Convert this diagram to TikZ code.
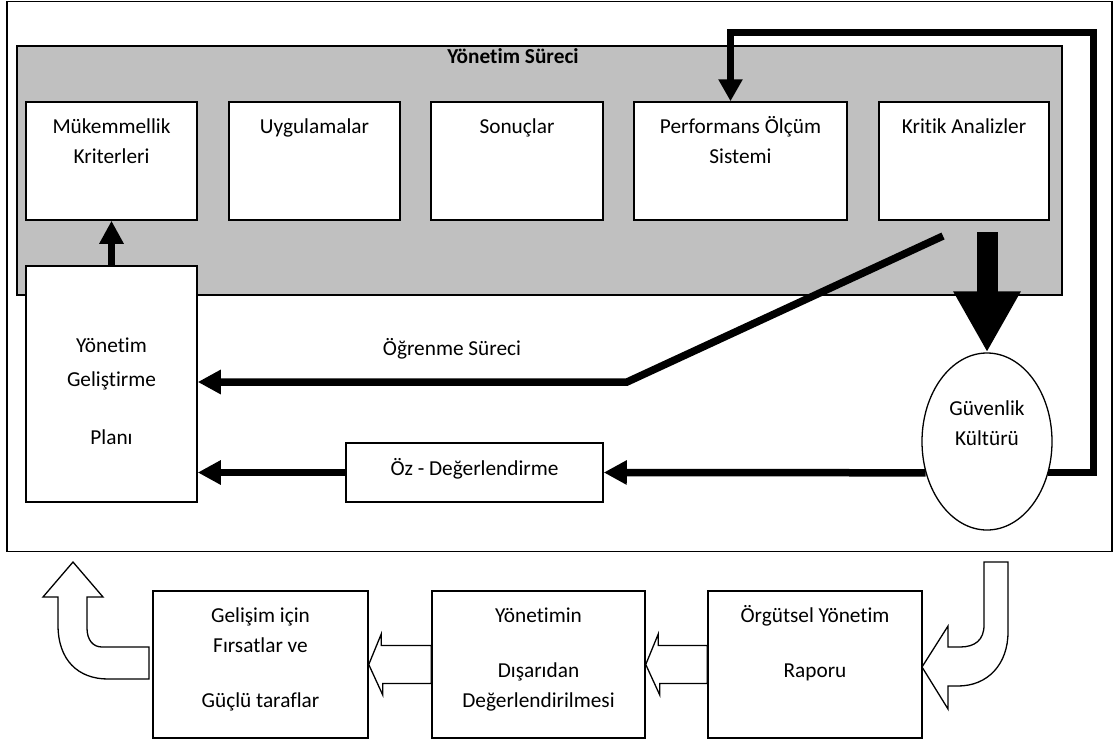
\documentclass[tikz,border=0pt]{standalone}
\usepackage{fontspec}
\setmainfont{Carlito}[Ligatures=NoCommon]
\usetikzlibrary{arrows.meta,shapes.geometric,calc}
\definecolor{procgray}{RGB}{192,192,192}
\begin{document}
\begin{tikzpicture}[x=1pt,y=-1pt,
  framebox/.style={draw, line width=1.5pt, inner sep=0pt},
  box/.style={draw, line width=1.5pt, fill=white, inner sep=0pt},
  % anchor=base of a multi-line label sits on its last line
  lbl/.style={font=\fontsize{21.3}{30}\selectfont, align=center, anchor=base, inner sep=0pt},
  flow/.style={line width=7.5pt, -{Triangle[length=23pt,width=23pt]}},
  bigflow/.style={line width=21pt, -{Triangle[length=61pt,width=63pt]}},
  hollow/.style={draw, line width=1.3pt, fill=white, line join=miter},
]
\useasboundingbox (0,0) rectangle (1115,744);

% outer frame and the management process panel
\node[framebox, minimum width=1105pt, minimum height=550pt] (frame) at (559.5,276.5) {};
\node[framebox, fill=procgray, line width=1.3pt, minimum width=1045pt, minimum height=249pt] (proc) at (539.5,170.5) {};
\node[lbl, font=\fontsize{21.3}{30}\selectfont\bfseries] (proctitle) at (513,63) {Yönetim Süreci};

% process steps
\node[box, minimum width=171pt, minimum height=118pt] (b1) at (111.5,161) {};
\node[box, minimum width=171pt, minimum height=118pt] (b2) at (314.5,161) {};
\node[box, minimum width=172pt, minimum height=118pt] (b3) at (517,161) {};
\node[box, minimum width=213pt, minimum height=118pt] (b4) at (740.5,161) {};
\node[box, minimum width=170pt, minimum height=118pt] (b5) at (964,161) {};
\node[lbl] (t1) at (111.5,163) {Mükemmellik\\Kriterleri};
\node[lbl] (t2) at (314.5,133) {Uygulamalar};
\node[lbl] (t3) at (517,133) {Sonuçlar};
\node[lbl] (t4) at (740.5,163) {Performans Ölçüm\\Sistemi};
\node[lbl] (t5) at (964,133) {Kritik Analizler};

% improvement plan, self assessment, safety culture
\node[box, minimum width=171pt, minimum height=236pt] (plan) at (111.5,384) {};
\node[lbl] (tplan) at (111.5,444) {Yönetim\\[4pt]Geliştirme\\[28pt]Planı};
\node[box, minimum width=257pt, minimum height=59pt] (oz) at (474.5,472.5) {};
\node[lbl] (toz) at (474.5,475) {Öz - Değerlendirme};
\node[draw, ellipse, line width=1.3pt, fill=white, inner sep=0pt, minimum width=130pt, minimum height=177pt] (guv) at (987,441.5) {};
\node[lbl] (tguv) at (987,445) {Güvenlik\\Kültürü};

% external reporting chain
\node[box, minimum width=215pt, minimum height=147pt] (gel) at (260.5,664.5) {};
\node[box, minimum width=213pt, minimum height=147pt] (yon) at (538.5,664.5) {};
\node[box, minimum width=214pt, minimum height=147pt] (rap) at (815,664.5) {};
\node[lbl] (tgel) at (260.5,707) {Gelişim için\\Fırsatlar ve\\[25pt]Güçlü taraflar};
\node[lbl] (tyon) at (538.5,707) {Yönetimin\\[25pt]Dışarıdan\\Değerlendirilmesi};
\node[lbl] (trap) at (815,677) {Örgütsel Yönetim\\[25pt]Raporu};

% learning loop
\coordinate (learnA) at (943,236);
\coordinate (learnB) at (627,382);
\draw[flow] (learnA) -- (learnB) -- (learnB -| plan.east);
\node[lbl] (tlearn) at (452,355) {Öğrenme Süreci};

% feedback arrows
\draw[flow] (plan.north) -- (b1.south);
\draw[flow] (guv.207.4) -- (oz.east);
\draw[flow] (oz.west) -- (oz.west -| plan.east);
\coordinate (loopNE) at (1093,32);
\draw[line width=7pt, -{Triangle[length=22pt,width=23pt]}] (guv.-27.4) -| (loopNE) -| ([xshift=-10pt]b4.north);
\coordinate (kritikOut) at (987,232);
\draw[bigflow] (kritikOut) -- (guv.north);

% hollow block arrows between the report boxes
\draw[hollow] ($(rap.west)+(0,-19)$) -- ++(-49,0) -- ++(0,-11.5) -- (yon.east) -- ++(14,30.5) -- ++(0,-11.5) -- ($(rap.west)+(0,19)$) -- cycle;
\draw[hollow] ($(yon.west)+(0,-19)$) -- ++(-50,0) -- ++(0,-11.5) -- (gel.east) -- ++(14,30.5) -- ++(0,-11.5) -- ($(yon.west)+(0,19)$) -- cycle;

% curved hollow arrows entering and leaving the chain
\draw[hollow] (984,562) -- (1008,562) -- (1008,632) .. controls (1008,664) and (988,686) .. (958,686) -- (948,686) -- (948,709) -- (922,667) -- (948,626) -- (948,647) -- (960,647) .. controls (975,647) and (984,640) .. (984,625) -- cycle;
\draw[hollow] (149,647) -- (102,647) .. controls (93,647) and (87,640) .. (87,628) -- (87,597) -- (103,597) -- (73,562) -- (43,597) -- (58,597) -- (58,625) .. controls (58,660) and (78,679) .. (108,679) -- (149,679) -- cycle;
\end{tikzpicture}
\end{document}
